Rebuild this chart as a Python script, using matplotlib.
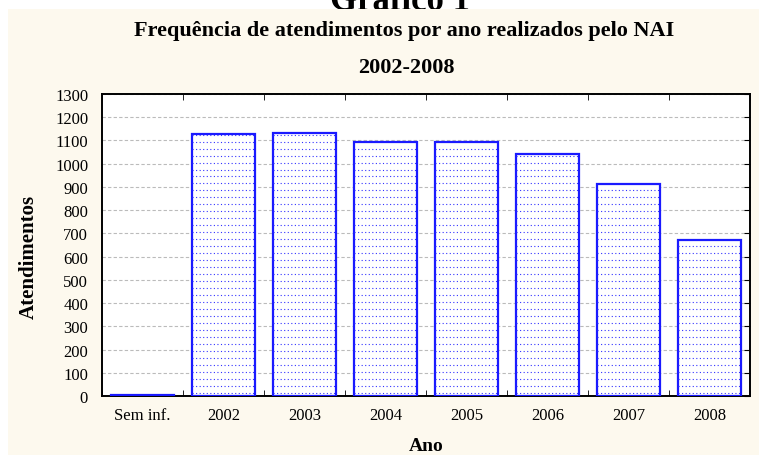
import matplotlib.pyplot as plt
import matplotlib.patches as mpatches
import numpy as np

categorias = ['Sem inf.', '2002', '2003', '2004', '2005', '2006', '2007', '2008']
atendimentos = [5, 1129, 1134, 1092, 1092, 1041, 912, 670]
yticks = list(range(0, 1301, 100))

plt.rcParams['font.family'] = ['Liberation Serif', 'DejaVu Serif']

fig = plt.figure(figsize=(7.59, 4.56), dpi=100)
fig.patch.set_facecolor('white')

# cream panel behind the chart
fig.patches.append(mpatches.Rectangle((8 / 759, 0), 1, 1 - 10 / 456,
                                      transform=fig.transFigure,
                                      facecolor='#fdf9ee', edgecolor='none', zorder=-5))

ax = fig.add_axes([102 / 759, 1 - 397 / 456, 648 / 759, 302 / 456])
ax.set_facecolor('white')

x = np.arange(len(categorias))
bars = ax.bar(x, atendimentos, width=0.79, facecolor='white',
              edgecolor='#1a1aff', linewidth=1.6, zorder=3)

# dotted fill inside each bar
for b in bars:
    ys = np.arange(15, 1300, 30)
    ys = ys[ys < b.get_height()]
    if len(ys) == 0:
        continue
    ax.hlines(ys, b.get_x(), b.get_x() + b.get_width(),
              colors='#3333ff', linestyles=(0, (1, 2.2)),
              linewidth=0.8, zorder=4)

ax.set_xlim(-0.5, len(categorias) - 0.5)
ax.set_ylim(0, 1300)
ax.set_yticks(yticks)
ax.set_xticks(x)
ax.set_xticklabels(categorias)
ax.set_xticks(np.arange(-0.5, len(categorias)), minor=True)
ax.tick_params(axis='x', which='major', length=0, pad=8, labelsize=12)
ax.tick_params(axis='x', which='minor', length=4, direction='in', top=True, bottom=True)
ax.tick_params(axis='y', length=4, direction='in', left=False, right=True,
               labelsize=12, pad=10)
ax.yaxis.grid(True, color='#bbbbbb', linestyle=(0, (3, 2)), linewidth=0.8, zorder=1)
for s in ax.spines.values():
    s.set_linewidth(1.4)

ax.set_xlabel('Ano', fontsize=14, fontweight='bold')
ax.xaxis.set_label_coords(0.5, -0.136)
ax.set_ylabel('Atendimentos', fontsize=15, fontweight='bold')
ax.yaxis.set_label_coords(-0.098, 0.465)

fig.text(404 / 759, 1 - 31 / 456, 'Frequência de atendimentos por ano realizados pelo NAI',
         ha='center', va='center', fontsize=16, fontweight='bold')
fig.text(406 / 759, 1 - 68 / 456, '2002-2008', ha='center', va='center',
         fontsize=16, fontweight='bold')
fig.text(400 / 759, 1 - 10 / 456, 'Gráfico 1', ha='center', va='baseline',
         fontsize=25, fontweight='bold', zorder=-10)

fig.savefig('out.png', dpi=100)
